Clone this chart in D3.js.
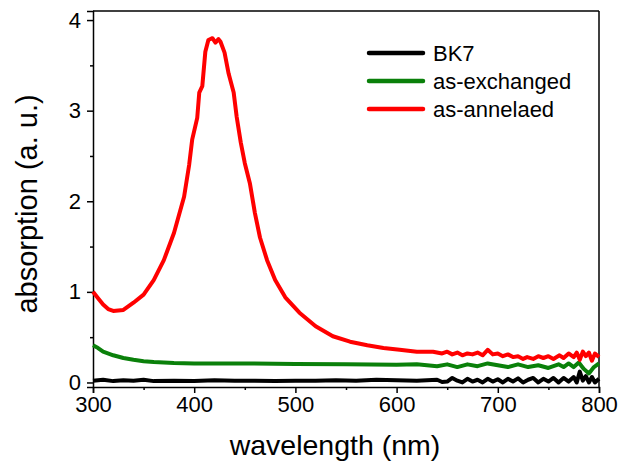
<!DOCTYPE html>
<html>
<head>
<meta charset="utf-8">
<script src="https://cdn.jsdelivr.net/npm/d3@7"></script>
<style>
  body { margin: 0; background: #fff; }
  svg { font-family: "Liberation Sans", Arial, sans-serif; }
  .axis path, .axis line { stroke: #000; stroke-width: 1.5px; }
  .axis text { font-size: 22px; fill: #000; font-family: "Liberation Sans", Arial, sans-serif; }
</style>
</head>
<body>
<svg id="chart" width="629" height="461"></svg>
<script>
// values
var bk7Wl  = [300, 310, 320, 330, 340, 350, 360, 380, 400, 420, 440, 460, 480, 500, 520, 540, 560, 580, 600, 620, 640, 645, 650, 655, 660, 665, 670, 675, 680, 685, 690, 695, 700, 705, 710, 715, 720, 725, 730, 735, 740, 745, 750, 755, 760, 765, 770, 775, 778, 781, 784, 787, 790, 793, 796, 800];
var bk7Abs = [0.02, 0.03, 0.015, 0.025, 0.02, 0.03, 0.015, 0.02, 0.015, 0.025, 0.02, 0.02, 0.015, 0.02, 0.02, 0.025, 0.02, 0.03, 0.025, 0.02, 0.03, 0.005, 0.01, 0.05, 0.02, 0.0, 0.04, 0.01, 0.03, 0.0, 0.04, 0.01, 0.035, 0.0, 0.04, 0.01, 0.045, 0.0, 0.03, 0.05, 0.0, 0.04, 0.01, 0.05, 0.0, 0.05, 0.01, 0.06, 0.0, 0.12, 0.02, 0.07, 0.0, 0.06, 0.0, 0.04];

var exWl  = [300, 305, 310, 320, 330, 340, 350, 360, 380, 400, 450, 500, 550, 600, 620, 640, 650, 660, 670, 680, 690, 700, 710, 720, 730, 740, 750, 760, 765, 770, 775, 780, 785, 790, 795, 800];
var exAbs = [0.41, 0.38, 0.34, 0.30, 0.27, 0.25, 0.235, 0.225, 0.215, 0.21, 0.21, 0.205, 0.20, 0.195, 0.20, 0.18, 0.20, 0.17, 0.20, 0.18, 0.21, 0.19, 0.17, 0.20, 0.17, 0.19, 0.16, 0.20, 0.17, 0.21, 0.17, 0.22, 0.15, 0.10, 0.17, 0.21];

var anWl  = [300, 305, 310, 315, 320, 330, 340, 350, 360, 370, 380, 390, 395, 398, 403, 405, 408, 411, 414, 418, 421, 424, 426, 430, 434, 439, 442, 446, 450, 455, 460, 465, 472, 480, 490, 504, 520, 537, 554, 571, 587, 603, 620, 636, 645, 650, 655, 660, 665, 670, 675, 680, 685, 690, 695, 700, 705, 710, 715, 720, 725, 729, 735, 740, 745, 750, 755, 761, 765, 770, 775, 778, 781, 784, 787, 790, 793, 796, 800];
var anAbs = [1.00, 0.93, 0.86, 0.81, 0.79, 0.80, 0.88, 0.97, 1.13, 1.35, 1.65, 2.05, 2.40, 2.68, 2.92, 3.20, 3.27, 3.65, 3.78, 3.80, 3.75, 3.79, 3.76, 3.64, 3.41, 3.20, 2.93, 2.65, 2.42, 2.20, 1.87, 1.60, 1.35, 1.13, 0.94, 0.77, 0.62, 0.51, 0.45, 0.41, 0.38, 0.36, 0.34, 0.34, 0.32, 0.34, 0.31, 0.33, 0.30, 0.32, 0.31, 0.33, 0.30, 0.36, 0.31, 0.32, 0.29, 0.31, 0.28, 0.29, 0.26, 0.28, 0.26, 0.29, 0.27, 0.29, 0.26, 0.30, 0.27, 0.32, 0.28, 0.33, 0.25, 0.34, 0.29, 0.33, 0.24, 0.32, 0.28];

var seriesNames  = ["BK7", "as-exchanged", "as-annelaed"];
var seriesColors = ["#000000", "#0a800a", "#ff0000"];

var xTicks = [300, 400, 500, 600, 700, 800];
var yTicks = [0, 1, 2, 3, 4];

var svg = d3.select("#chart");
var pLeft = 93, pRight = 599, pTop = 11, pBottom = 387;

var x = d3.scaleLinear().domain([300, 800]).range([pLeft, pRight]);
var y = d3.scaleLinear().domain([-0.05, 4.1]).range([pBottom, pTop]);

function pairs(wl, v) {
  return wl.map(function(d, i) { return [d, v[i]]; });
}
var series = [pairs(bk7Wl, bk7Abs), pairs(exWl, exAbs), pairs(anWl, anAbs)];

var line = d3.line()
    .x(function(d) { return x(d[0]); })
    .y(function(d) { return y(d[1]); });

// frame top and right
svg.append("line").attr("x1", pLeft).attr("x2", pRight).attr("y1", pTop).attr("y2", pTop)
    .attr("stroke", "#000").attr("stroke-width", 1.5);
svg.append("line").attr("x1", pRight).attr("x2", pRight).attr("y1", pTop).attr("y2", pBottom)
    .attr("stroke", "#000").attr("stroke-width", 1.5);

// minor ticks
svg.append("g")
    .attr("class", "axis")
    .attr("transform", "translate(0," + pBottom + ")")
    .call(d3.axisBottom(x).tickValues(d3.range(350, 800, 100)).tickSize(3).tickFormat(""))
    .select(".domain").remove();
svg.append("g")
    .attr("class", "axis")
    .attr("transform", "translate(" + pLeft + ",0)")
    .call(d3.axisLeft(y).tickValues(d3.range(0.5, 4, 1)).tickSize(3).tickFormat(""))
    .select(".domain").remove();

svg.append("g")
    .attr("class", "axis")
    .attr("transform", "translate(0," + pBottom + ")")
    .call(d3.axisBottom(x).tickValues(xTicks).tickSizeOuter(0).tickSize(6).tickPadding(3).tickFormat(d3.format("d")));

svg.append("g")
    .attr("class", "axis")
    .attr("transform", "translate(" + pLeft + ",0)")
    .call(d3.axisLeft(y).tickValues(yTicks).tickSizeOuter(0).tickSize(6).tickPadding(6).tickFormat(d3.format("d")));

svg.selectAll(".series")
    .data(series)
    .enter().append("path")
    .attr("class", "series")
    .attr("fill", "none")
    .attr("stroke", function(d, i) { return seriesColors[i]; })
    .attr("stroke-width", 4)
    .attr("stroke-linejoin", "round")
    .attr("d", line);

// legend
var legend = svg.selectAll(".legend")
    .data(seriesNames)
    .enter().append("g")
    .attr("class", "legend")
    .attr("transform", function(d, i) { return "translate(369," + (53 + i * 28) + ")"; });
legend.append("line")
    .attr("x1", 0).attr("x2", 54)
    .attr("stroke", function(d, i) { return seriesColors[i]; })
    .attr("stroke-width", 4.5)
    .attr("stroke-linecap", "round");
legend.append("text")
    .attr("x", 64).attr("dy", "0.36em")
    .attr("font-size", 22)
    .text(function(d) { return d; });

svg.append("text")
    .attr("x", (pLeft + pRight) / 2 - 11)
    .attr("y", 455)
    .attr("text-anchor", "middle")
    .attr("font-size", 28.5)
    .text("wavelength (nm)");

svg.append("text")
    .attr("transform", "translate(37," + 204 + ") rotate(-90)")
    .attr("text-anchor", "middle")
    .attr("font-size", 29)
    .text("absorption (a. u.)");
</script>
</body>
</html>
